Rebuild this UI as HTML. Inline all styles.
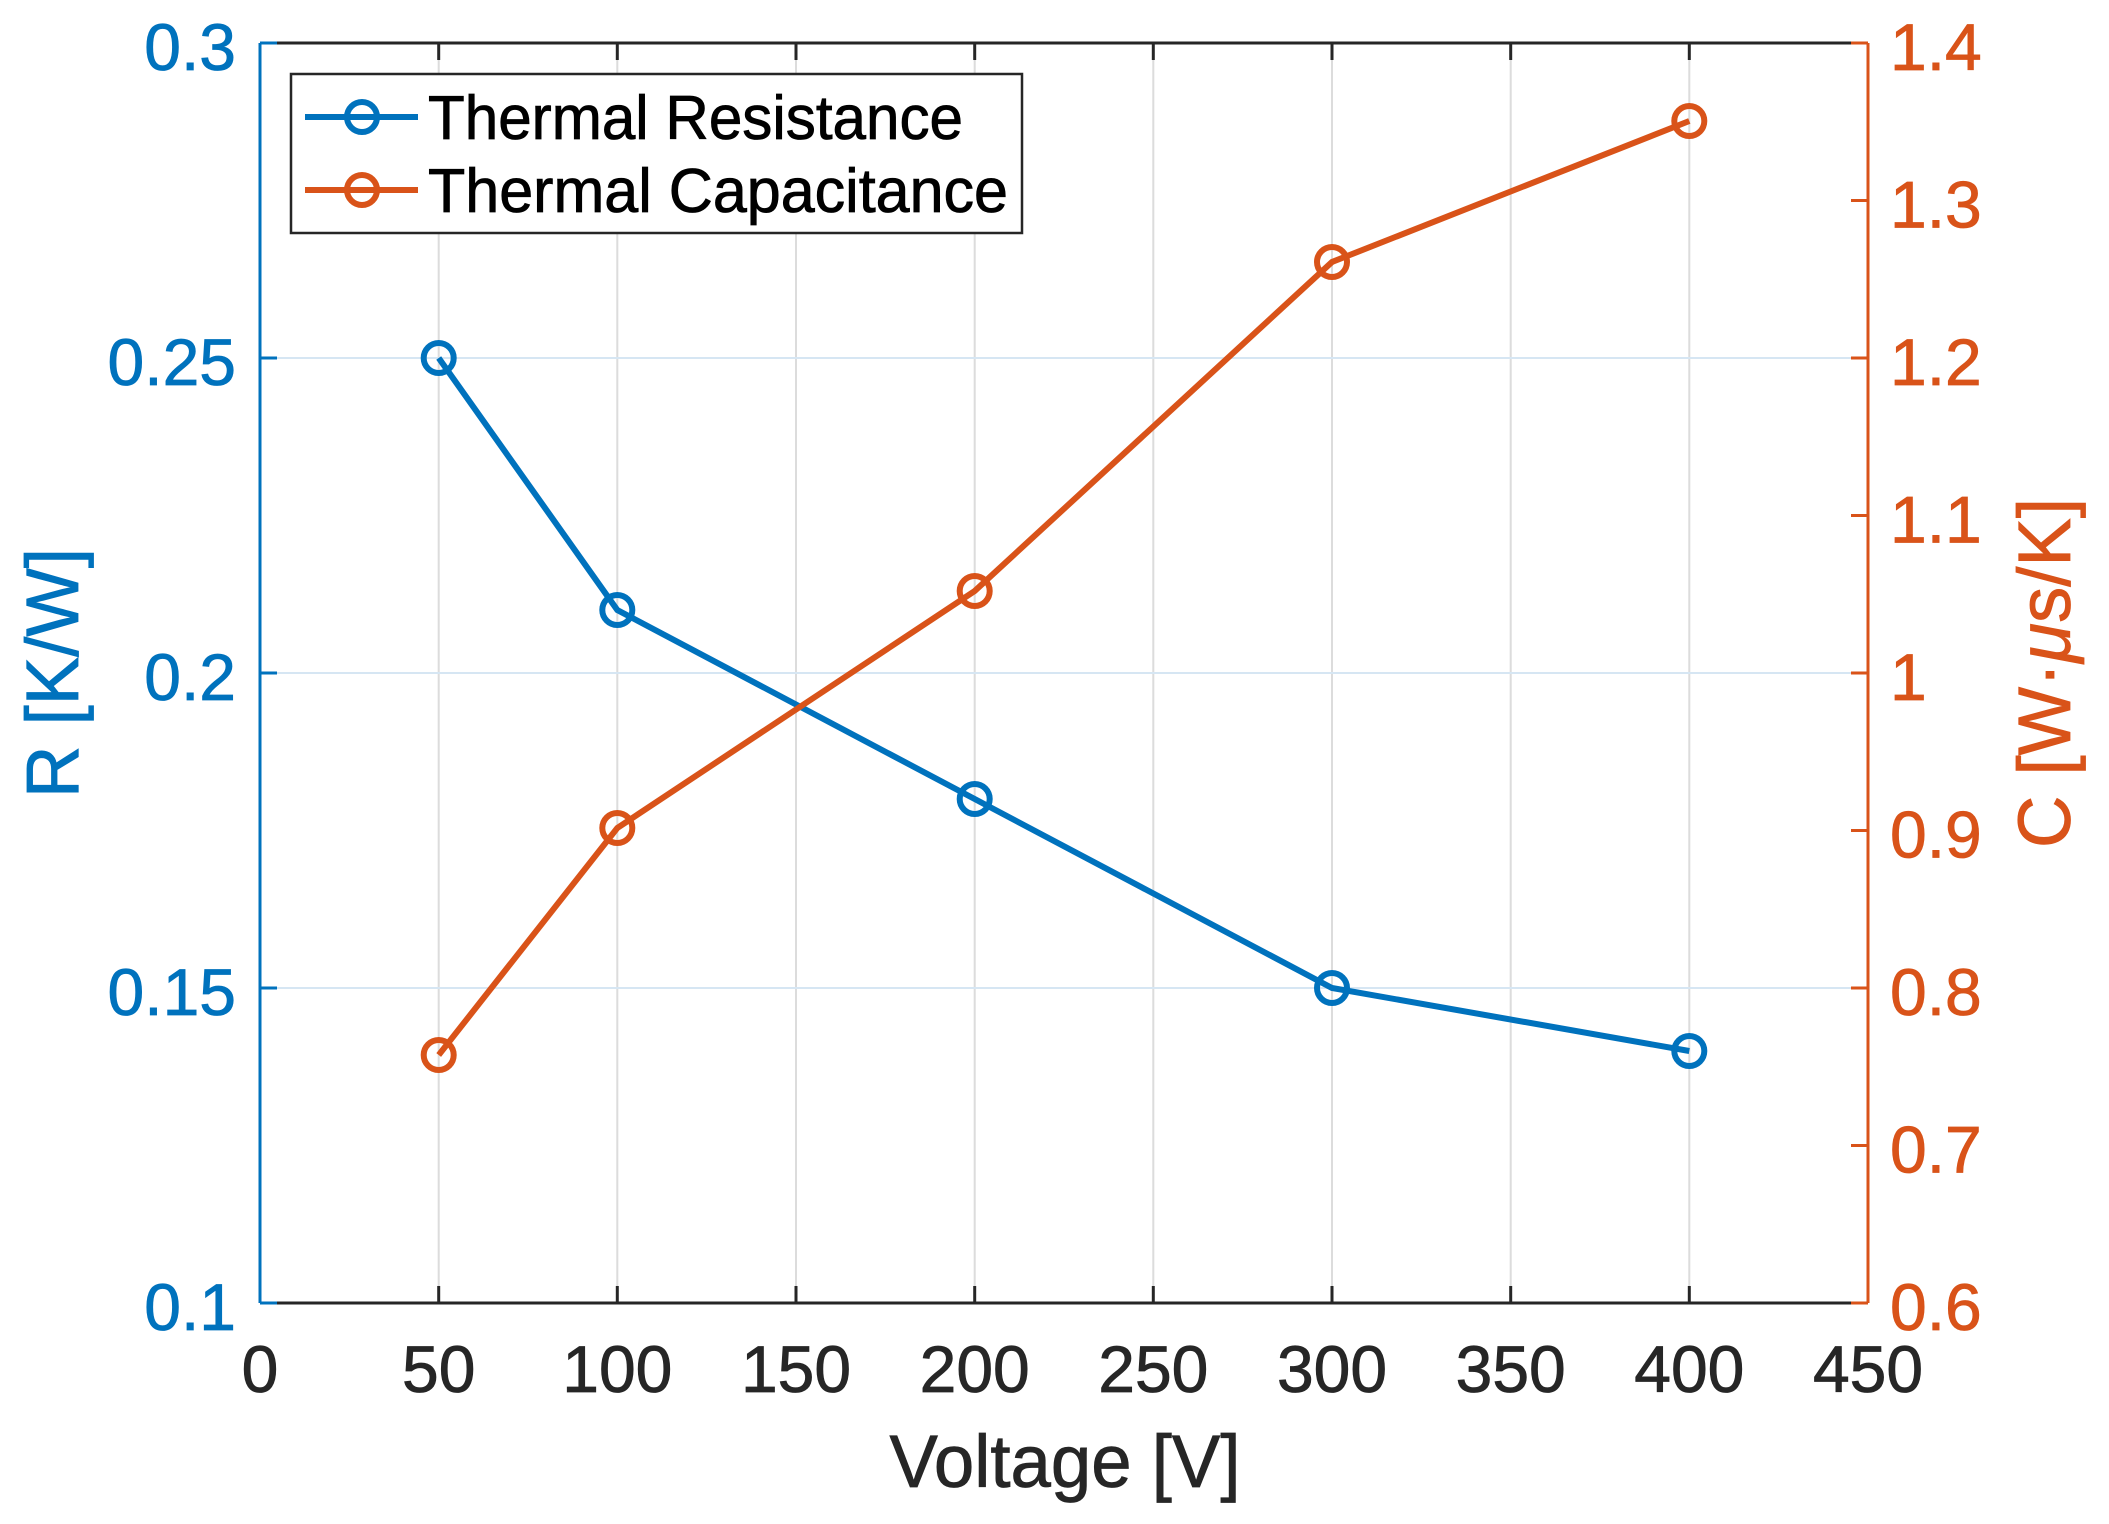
<!DOCTYPE html>
<html><head><meta charset="utf-8"><style>html,body{margin:0;padding:0;background:#fff}svg{display:block}</style></head>
<body>
<svg width="2109" height="1524" viewBox="0 0 2109 1524" xmlns="http://www.w3.org/2000/svg" font-family="Liberation Sans, Helvetica, Arial, sans-serif">
<rect width="2109" height="1524" fill="#fff"/>
<g stroke="#dcdcdc" stroke-width="2">
<line x1="438.7" y1="43" x2="438.7" y2="1303"/><line x1="617.3" y1="43" x2="617.3" y2="1303"/>
<line x1="796" y1="43" x2="796" y2="1303"/><line x1="974.7" y1="43" x2="974.7" y2="1303"/>
<line x1="1153.3" y1="43" x2="1153.3" y2="1303"/><line x1="1332" y1="43" x2="1332" y2="1303"/>
<line x1="1510.7" y1="43" x2="1510.7" y2="1303"/><line x1="1689.3" y1="43" x2="1689.3" y2="1303"/>
</g>
<g stroke="#d6e6f3" stroke-width="2">
<line x1="260" y1="358" x2="1868" y2="358"/><line x1="260" y1="673" x2="1868" y2="673"/><line x1="260" y1="988" x2="1868" y2="988"/>
</g>
<g stroke="#262626" stroke-width="3">
<line x1="438.7" y1="1303" x2="438.7" y2="1286"/><line x1="617.3" y1="1303" x2="617.3" y2="1286"/><line x1="796" y1="1303" x2="796" y2="1286"/><line x1="974.7" y1="1303" x2="974.7" y2="1286"/><line x1="1153.3" y1="1303" x2="1153.3" y2="1286"/><line x1="1332" y1="1303" x2="1332" y2="1286"/><line x1="1510.7" y1="1303" x2="1510.7" y2="1286"/><line x1="1689.3" y1="1303" x2="1689.3" y2="1286"/>
<line x1="438.7" y1="43" x2="438.7" y2="60"/><line x1="617.3" y1="43" x2="617.3" y2="60"/><line x1="796" y1="43" x2="796" y2="60"/><line x1="974.7" y1="43" x2="974.7" y2="60"/><line x1="1153.3" y1="43" x2="1153.3" y2="60"/><line x1="1332" y1="43" x2="1332" y2="60"/><line x1="1510.7" y1="43" x2="1510.7" y2="60"/><line x1="1689.3" y1="43" x2="1689.3" y2="60"/>
<line x1="260" y1="1303" x2="1868" y2="1303"/><line x1="260" y1="43" x2="1868" y2="43"/>
</g>
<g stroke="#0072BD" stroke-width="3">
<line x1="260" y1="43" x2="260" y2="1303"/>
<line x1="260" y1="43" x2="277" y2="43"/><line x1="260" y1="358" x2="277" y2="358"/><line x1="260" y1="673" x2="277" y2="673"/><line x1="260" y1="988" x2="277" y2="988"/><line x1="260" y1="1303" x2="277" y2="1303"/>
</g>
<g stroke="#D95319" stroke-width="3">
<line x1="1868" y1="43" x2="1868" y2="1303"/>
<line x1="1851" y1="43" x2="1868" y2="43"/><line x1="1851" y1="200.5" x2="1868" y2="200.5"/><line x1="1851" y1="358" x2="1868" y2="358"/><line x1="1851" y1="515.5" x2="1868" y2="515.5"/><line x1="1851" y1="673" x2="1868" y2="673"/><line x1="1851" y1="830.5" x2="1868" y2="830.5"/><line x1="1851" y1="988" x2="1868" y2="988"/><line x1="1851" y1="1145.5" x2="1868" y2="1145.5"/><line x1="1851" y1="1303" x2="1868" y2="1303"/>
</g>
<g fill="none" stroke="#0072BD" stroke-width="6">
<polyline points="438.7,358 617.3,610 974.7,799 1332,988 1689.3,1051"/>
<circle cx="438.7" cy="358" r="15"/><circle cx="617.3" cy="610" r="15"/><circle cx="974.7" cy="799" r="15"/><circle cx="1332" cy="988" r="15"/><circle cx="1689.3" cy="1051" r="15"/>
</g>
<g fill="none" stroke="#D95319" stroke-width="6">
<polyline points="438.7,1055 617.3,828 974.7,591 1332,262 1689.3,121"/>
<circle cx="438.7" cy="1055" r="15"/><circle cx="617.3" cy="828" r="15"/><circle cx="974.7" cy="591" r="15"/><circle cx="1332" cy="262" r="15"/><circle cx="1689.3" cy="121" r="15"/>
</g>
<g font-size="66" fill="#262626" text-anchor="middle" stroke="#262626" stroke-width="0.8">
<text x="260" y="1392">0</text><text x="438.7" y="1392">50</text><text x="617.3" y="1392">100</text><text x="796" y="1392">150</text><text x="974.7" y="1392">200</text><text x="1153.3" y="1392">250</text><text x="1332" y="1392">300</text><text x="1510.7" y="1392">350</text><text x="1689.3" y="1392">400</text><text x="1868" y="1392">450</text>
</g>
<g font-size="66" fill="#0072BD" text-anchor="end" stroke="#0072BD" stroke-width="0.8">
<text x="236" y="70">0.3</text><text x="236" y="385">0.25</text><text x="236" y="700">0.2</text><text x="236" y="1015">0.15</text><text x="236" y="1330">0.1</text>
</g>
<g font-size="66" fill="#D95319" text-anchor="start" stroke="#D95319" stroke-width="0.8">
<text x="1890" y="70">1.4</text><text x="1890" y="227.5">1.3</text><text x="1890" y="385">1.2</text><text x="1890" y="542.5">1.1</text><text x="1890" y="700">1</text><text x="1890" y="857.5">0.9</text><text x="1890" y="1015">0.8</text><text x="1890" y="1172.5">0.7</text><text x="1890" y="1330">0.6</text>
</g>
<text x="1065" y="1487" font-size="74" fill="#262626" stroke="#262626" stroke-width="0.8" text-anchor="middle" textLength="351" lengthAdjust="spacingAndGlyphs">Voltage [V]</text>
<text transform="translate(78,673) rotate(-90)" font-size="74" fill="#0072BD" stroke="#0072BD" stroke-width="0.8" text-anchor="middle" textLength="250" lengthAdjust="spacingAndGlyphs">R [K/W]</text>
<text transform="translate(2070,673) rotate(-90)" font-size="74" fill="#D95319" stroke="#D95319" stroke-width="0.8" text-anchor="middle" textLength="350" lengthAdjust="spacingAndGlyphs">C [W·<tspan font-style="italic">μ</tspan>s/K]</text>
<rect x="291" y="74" width="731" height="159" fill="#fff" stroke="#262626" stroke-width="2.5"/>
<g stroke-width="6" fill="none">
<line x1="305" y1="117" x2="418" y2="117" stroke="#0072BD"/><circle cx="362" cy="117" r="15" stroke="#0072BD"/>
<line x1="305" y1="190" x2="418" y2="190" stroke="#D95319"/><circle cx="362" cy="190" r="15" stroke="#D95319"/>
</g>
<text x="428" y="139" font-size="62" fill="#000" stroke="#000" stroke-width="0.8" textLength="535" lengthAdjust="spacingAndGlyphs">Thermal Resistance</text>
<text x="428" y="212" font-size="62" fill="#000" stroke="#000" stroke-width="0.8" textLength="580" lengthAdjust="spacingAndGlyphs">Thermal Capacitance</text>
</svg>
</body></html>
